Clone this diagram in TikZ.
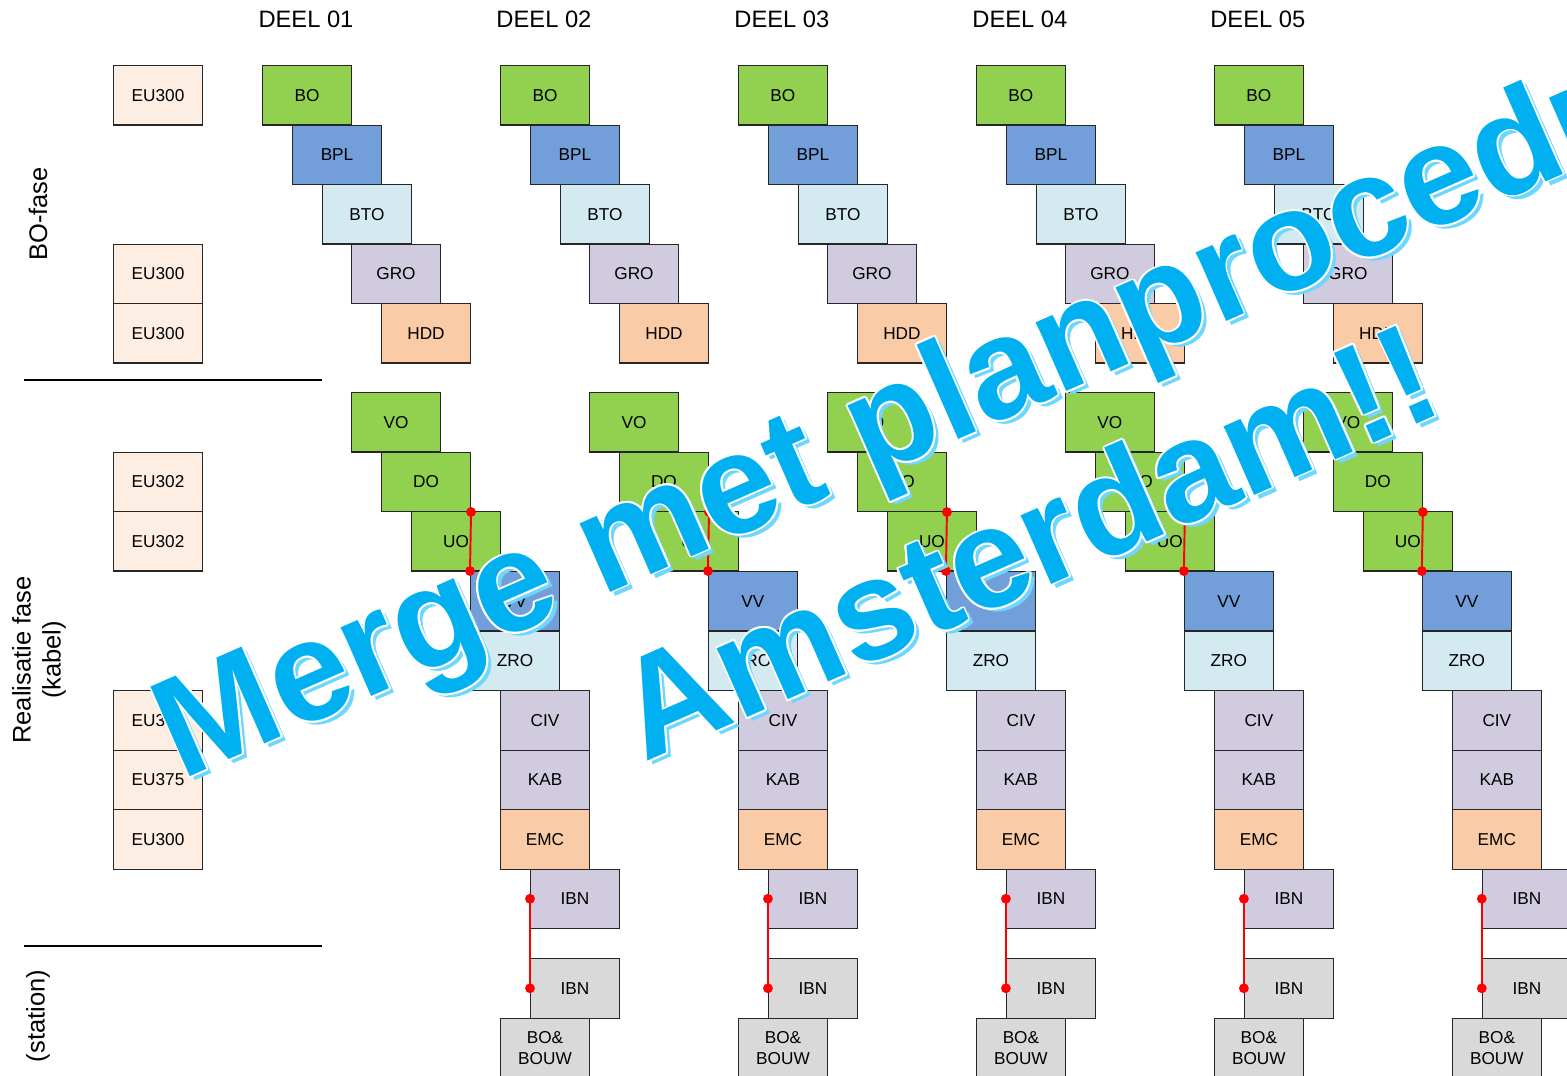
\documentclass[tikz,border=0pt]{standalone}
\usepackage{fontspec}
\setmainfont{Liberation Sans}
\usepackage{tikz}
\usetikzlibrary{calc}
\definecolor{fasegroen}{RGB}{146,208,80}
\definecolor{faseblauw}{RGB}{114,159,217}
\definecolor{faselicht}{RGB}{210,234,240}
\definecolor{fasepaars}{RGB}{209,203,224}
\definecolor{faseoranje}{RGB}{249,203,166}
\definecolor{fasegrijs}{RGB}{217,217,217}
\definecolor{eucolor}{RGB}{253,238,228}
\definecolor{wmblauw}{RGB}{0,176,240}
\definecolor{wmschaduw}{RGB}{110,214,255}

\begin{document}
\begin{tikzpicture}[x=0.02cm, y=-0.02cm,
    stage/.style={draw=black!85, line width=0.6pt, anchor=north west,
                  minimum width=1.78cm, minimum height=1.19cm, inner sep=0pt,
                  font=\fontsize{9.8}{12}\selectfont, align=center},
    groen/.style={stage, fill=fasegroen},
    blauw/.style={stage, fill=faseblauw},
    licht/.style={stage, fill=faselicht},
    paars/.style={stage, fill=fasepaars},
    oranje/.style={stage, fill=faseoranje},
    grijs/.style={stage, fill=fasegrijs},
    eu/.style={stage, fill=eucolor},
    heading/.style={font=\fontsize{13.5}{16}\selectfont},
    side/.style={rotate=90, align=center, font=\fontsize{14.5}{17}\selectfont},
    link/.style={red, line width=1.1pt},
    wm/.style={rotate=23.7, anchor=base, inner sep=0pt,
               font=\fontsize{81}{97}\selectfont\bfseries}
  ]
    \useasboundingbox (0,0) rectangle (1567,1075);
    \clip (0,0) rectangle (1567,1075);

    % phase labels and separators
    \node[side] (bofase) at (38,214) {BO-fase};
    \node[side] (realisatie) at (39,660) {Realisatie fase\\(kabel)};
    \node[side] (station) at (38,1016) {(station)};
    \draw[line width=0.6pt] (24,380) -- (322,380);
    \draw[line width=0.6pt] (24,946) -- (322,946);

    % EU boxes
    \node[eu] (eu1) at (113,65)    {EU300};
    \node[eu] (eu2) at (113,243.5) {EU300};
    \node[eu] (eu3) at (113,303)   {EU300};
    \node[eu] (eu4) at (113,451.5) {EU302};
    \node[eu] (eu5) at (113,511)   {EU302};
    \node[eu] (eu6) at (113,690)   {EU300};
    \node[eu] (eu7) at (113,749.5) {EU375};
    \node[eu] (eu8) at (113,809)   {EU300};

    % the five parts
    \foreach \i/\nr in {0/01,1/02,2/03,3/04,4/05} {
      \begin{scope}[xshift=\i*4.76cm]
        \node[heading] (deel\i) at (306,19) {DEEL \nr};
        \node[groen]  (bo\i)  at (262,65)     {BO};
        \node[blauw]  (bpl\i) at (292,124.5)  {BPL};
        \node[licht]  (bto\i) at (322,184)    {BTO};
        \node[paars]  (gro\i) at (351,243.5)  {GRO};
        \node[oranje] (hdd\i) at (381,303)    {HDD};
        \node[groen]  (vo\i)  at (351,392)    {VO};
        \node[groen]  (do\i)  at (381,451.5)  {DO};
        \node[groen]  (uo\i)  at (411,511)    {UO};
        \node[blauw]  (vv\i)  at (470,571)    {VV};
        \node[licht]  (zro\i) at (470,630.5)  {ZRO};
        \node[paars]  (civ\i) at (500,690)    {CIV};
        \node[paars]  (kab\i) at (500,749.5)  {KAB};
        \node[oranje] (emc\i) at (500,809)    {EMC};
        \node[paars]  (ibn\i) at (530,868.5)  {IBN};
        \node[grijs]  (ibs\i) at (530,958)    {IBN};
        \node[grijs]  (bob\i) at (500,1017.5) {BO\&\\BOUW};

        \draw[link] (do\i.south east) -- (vv\i.north west);
        \fill[red] (do\i.south east) circle (2.8pt) (vv\i.north west) circle (2.8pt);
        \draw[link] (ibn\i.west) -- (ibs\i.west);
        \fill[red] (ibn\i.west) circle (2.8pt) (ibs\i.west) circle (2.8pt);
      \end{scope}
    }

    % watermark
    \coordinate (wmA) at (978.3,430.7);
    \coordinate (wmB) at (1046.6,586.4);
    \node[wm, text=wmschaduw] (wmAs) at ($(wmA)+(5,4)$) {Merge met planprocedure};
    \node[wm, text=wmschaduw] (wmBs) at ($(wmB)+(5,4)$) {Amsterdam!!};
    \foreach \a in {0,30,...,330} {
      \node[wm, text=white] (wmAo\a) at ($(wmA)+(\a:1.8)$) {Merge met planprocedure};
      \node[wm, text=white] (wmBo\a) at ($(wmB)+(\a:1.8)$) {Amsterdam!!};
    }
    \node[wm, text=wmblauw] (wm1) at (wmA) {Merge met planprocedure};
    \node[wm, text=wmblauw] (wm2) at (wmB) {Amsterdam!!};
  \end{tikzpicture}
\end{document}
